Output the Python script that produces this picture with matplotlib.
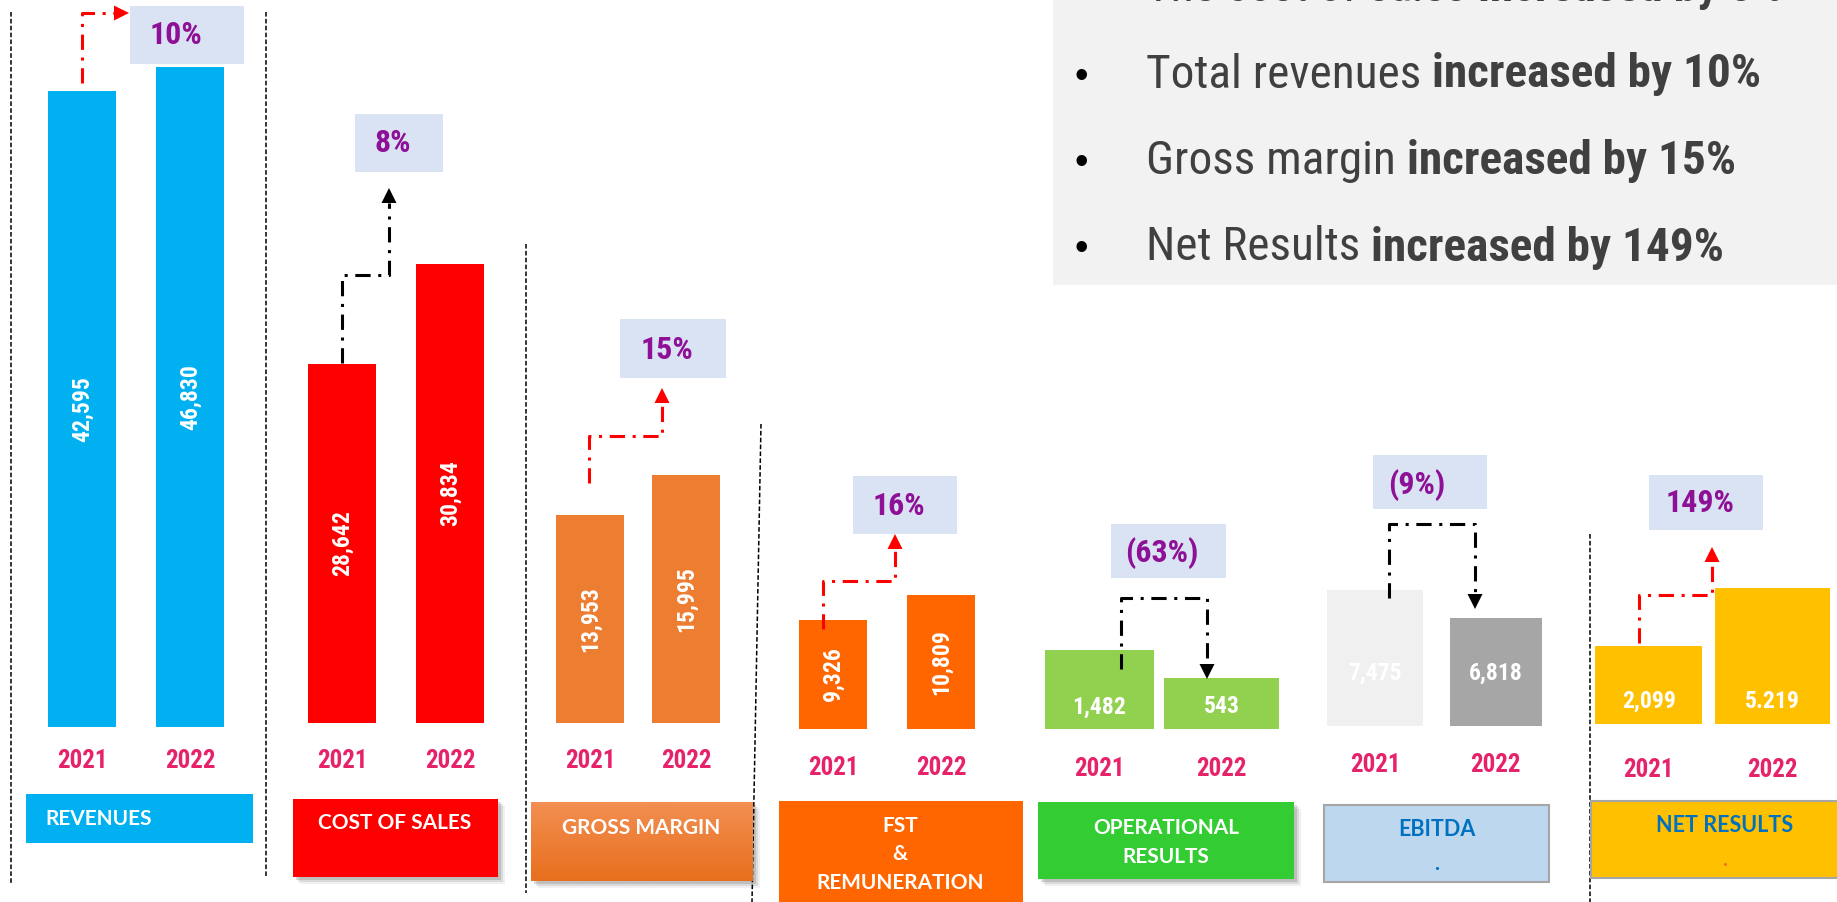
import numpy as np
import matplotlib
matplotlib.use('Agg')
import matplotlib.pyplot as plt
from matplotlib import font_manager
from matplotlib.patches import Rectangle, Polygon
from matplotlib.colors import LinearSegmentedColormap

# ---- data ----
years = ['2021', '2022']
revenues = [42595, 46830]
cost_of_sales = [28642, 30834]
gross_margin = [13953, 15995]
fst_remuneration = [9326, 10809]
operational_results = [1482, 543]
ebitda = [7475, 6818]
net_results = [2099, 5219]
net_labels = ['2,099', '5.219']
changes = ['10%', '8%', '15%', '16%', '(63%)', '(9%)', '149%']
categories = ['REVENUES', 'COST OF SALES', 'GROSS MARGIN', 'FST\n&\nREMUNERATION',
              'OPERATIONAL\nRESULTS', 'EBITDA\n.', 'NET RESULTS\n.']
summary_plain = ['The cost of sales ', 'Total revenues ', 'Gross margin ', 'Net Results ']
summary_bold = ['increased by 8%', 'increased by 10%', 'increased by 15%', 'increased by 149%']

series = [revenues, cost_of_sales, gross_margin, fst_remuneration,
          operational_results, ebitda, net_results]

W, H = 1837, 902

# pick a narrow face (Arial Narrow look) if one is installed
fl = font_manager.fontManager.ttflist
names = {f.name for f in fl}
NARROW = dict(family='Liberation Sans')
SC = 0.84
for cand in ['Liberation Sans Narrow', 'Arial Narrow', 'Roboto Condensed', 'Open Sans Condensed',
             'Noto Sans Condensed', 'DejaVu Sans Condensed']:
    if cand in names:
        NARROW = dict(family=cand)
        SC = 1.0
        break
else:
    for f in fl:
        if f.name in ('Noto Sans', 'Open Sans', 'Roboto', 'DejaVu Sans', 'Inter') and \
                f.stretch in ('condensed', 'semi-condensed', 'extra-condensed'):
            NARROW = dict(family=f.name, stretch=f.stretch)
            SC = 0.95
            break
BOXFONT = 'Lato' if 'Lato' in names else 'DejaVu Sans'
YEAR_C = '#E6226B'
PCT_C = '#8E1096'

bar_colors = [['#00B0F0'] * 2, ['#FF0000'] * 2, ['#ED7D31'] * 2, ['#FF6600'] * 2,
              ['#92D050'] * 2, ['#F0F0F0', '#A6A6A6'], ['#FFC000'] * 2]

# left px, right px, base px, ylim lo, ylim hi, bar widths, year pad (pt), label offset (pt, None = rotated)
panel_layout = [
    (28, 244, 727, -69634, 58652, [0.63, 0.63], 15.8, None),
    (288, 504, 723, 20773, 36621, [0.63, 0.63], 18.7, None),
    (542, 734, 723, 3335, 40243, [0.71, 0.71], 18.7, None),
    (779, 995, 729, 2860, 46104, [0.63, 0.63], 19.4, None),
    (1038.5, 1282.5, 728.5, -1134, 23280, [0.89, 0.94], 20.5, 15.5),
    (1315, 1556, 725.5, 4284, 21307, [0.80, 0.76], 19.8, 37.8),
    (1587, 1834, 724, -2097, 36849, [0.87, 0.93], 24.5, 16.5),
]

fig = plt.figure(figsize=(W / 100, H / 100), dpi=100)
fig.patch.set_facecolor('white')

for i, vals in enumerate(series):
    L, R, base, lo, hi, widths, pad, offs = panel_layout[i]
    ax = fig.add_axes([L / W, 1 - base / H, (R - L) / W, base / H])
    ax.set_xlim(-0.5, 1.5)
    ax.set_ylim(lo, hi)
    ax.bar([0, 1], np.array(vals) - lo, bottom=lo, width=widths, color=bar_colors[i])
    ax.set_xticks([0, 1], years)
    ax.tick_params(axis='x', length=0, pad=pad, labelsize=18 * SC, labelcolor=YEAR_C)
    for t in ax.get_xticklabels():
        t.set_fontweight('bold')
        t.set_fontproperties(font_manager.FontProperties(weight='bold', size=18 * SC, **NARROW))
    ax.set_yticks([])
    for s in ax.spines.values():
        s.set_visible(False)
    ax.patch.set_alpha(0)
    labels = net_labels if vals is net_results else [f'{v:,}' for v in vals]
    for j, v in enumerate(vals):
        if offs is None:
            ax.text(j, (lo + v) / 2, labels[j], rotation=90, ha='center', va='center',
                    color='white', fontsize=17 * SC, fontweight='bold', **NARROW)
        else:
            ax.annotate(labels[j], xy=(j, lo), xytext=(0, offs), textcoords='offset points',
                        ha='center', va='center', color='white', fontsize=17 * SC,
                        fontweight='bold', **NARROW)

# ---- overlay in pixel coordinates ----
ov = fig.add_axes([0, 0, 1, 1])
ov.set_xlim(0, W)
ov.set_ylim(H, 0)
ov.axis('off')
ov.patch.set_alpha(0)

# dashed dividers
for (x0, y0, x1, y1) in [(11, 12, 11, 884), (266, 12, 266, 877), (526, 244, 526, 893),
                         (761, 424, 752, 902), (1590, 534, 1590, 902)]:
    ov.plot([x0, x1], [y0, y1], color='black', lw=1.1, linestyle=(0, (3, 1.5)))

# change boxes
pct_boxes = [(130, 244, 6, 64, 176, 35), (355, 443, 114, 172, 393, 143),
             (620, 726, 319, 378, 667, 350), (853, 957, 476, 534, 899, 506),
             (1111, 1226, 524, 578, 1162, 553), (1373, 1487, 455, 509, 1417, 485),
             (1649, 1763, 475, 530, 1700, 503)]
for k, (x0, x1, y0, y1, tx, ty) in enumerate(pct_boxes):
    ov.add_patch(Rectangle((x0, y0), x1 - x0, y1 - y0, fc='#DAE3F3', ec='none'))
    ov.text(tx, ty, changes[k], ha='center', va='center', color=PCT_C, fontsize=23 * SC,
            fontweight='bold', **NARROW)

# connector arrows
arrows = [
    ([(82, 83), (82, 13), (129, 13)], 'red'),
    ([(342, 363), (342, 275), (389, 275), (389, 188)], 'black'),
    ([(589, 483), (589, 436), (662, 436), (662, 388)], 'red'),
    ([(823, 629), (823, 581), (895, 581), (895, 534)], 'red'),
    ([(1121, 669), (1121, 598), (1207, 598), (1207, 679)], 'black'),
    ([(1389, 598), (1389, 524), (1475, 524), (1475, 609)], 'black'),
    ([(1639, 643), (1639, 595), (1712, 595), (1712, 547)], 'red'),
]
for pts, col in arrows:
    pts = np.array(pts, dtype=float)
    tip = pts[-1]
    d = tip - pts[-2]
    d = d / np.hypot(*d)
    base = tip - d * 15
    line = np.vstack([pts[:-1], base])
    ov.plot(line[:, 0], line[:, 1], color=col, lw=2.2, linestyle=(0, (5, 2.5, 1, 2.5)))
    nrm = np.array([-d[1], d[0]])
    ov.add_patch(Polygon([tip, base + nrm * 7.5, base - nrm * 7.5], closed=True, fc=col, ec='none'))

# category boxes
# x0, x1, y0, y1, fill, text colour, text x, first line y, line step, ha, edge, shadow
cat_layout = [
    (26, 253, 794, 843, '#00B0F0', 'white', 45, 819, 0, 'left', None, False),
    (293, 498, 799, 877, '#FF0000', 'white', 395, 823, 0, 'center', None, True),
    (531, 753, 802, 881, None, 'white', 641, 828, 0, 'center', None, True),
    (779, 1023, 801, 915, '#FF6600', 'white', 900, 826, 28.5, 'center', None, False),
    (1038, 1294, 802, 879, '#33CC33', 'white', 1166, 828, 29, 'center', None, True),
    (1324, 1549, 805, 882, '#BDD7EE', '#0070C0', 1437, 829, 34, 'center', '#A6A6A6', False),
    (1591, 1850, 801, 878, '#FFC000', '#0070C0', 1725, 826, 34, 'center', '#A6A6A6', False),
]
gm_cmap = LinearSegmentedColormap.from_list('gm', ['#F28F52', '#E86F1D'])
for k, (x0, x1, y0, y1, fc, tc, tx, ty, step, ha, ec, shadow) in enumerate(cat_layout):
    if shadow:
        for s, a in [(7, 0.08), (5, 0.12), (3, 0.18)]:
            ov.add_patch(Rectangle((x0 + s, y0 + s), x1 - x0, y1 - y0, fc='#404040', ec='none', alpha=a))
    if fc is None:
        ov.imshow(np.linspace(0, 1, 60).reshape(-1, 1), cmap=gm_cmap, extent=(x0, x1, y1, y0),
                  aspect='auto', zorder=2)
    else:
        ov.add_patch(Rectangle((x0, y0), x1 - x0, y1 - y0, fc=fc,
                               ec=ec if ec else 'none', lw=1.5, zorder=2))
    fs = 15.5 if tc != 'white' else 15
    for n, line in enumerate(categories[k].split('\n')):
        col = '#F07020' if (k == 6 and line == '.') else tc
        ov.text(tx, ty + n * step, line, ha=ha, va='center', color=col, fontsize=fs,
                fontweight='bold', family=BOXFONT, zorder=3)
ov.set_xlim(0, W)
ov.set_ylim(H, 0)

# summary text box
ov.add_patch(Rectangle((1053, -5), W - 1053 + 5, 290, fc='#F2F2F2', ec='none', zorder=1))
renderer = fig.canvas.get_renderer()
for n, (plain, bold) in enumerate(zip(summary_plain, summary_bold)):
    yb = 1 + n * 86.5
    ov.text(1081, yb, '\u2022', ha='center', va='baseline', fontsize=28, color='black',
            family='Liberation Sans', zorder=3)
    t = ov.text(1146, yb, plain, ha='left', va='baseline', fontsize=34 * SC, color='#404040',
                zorder=3, **NARROW)
    bb = t.get_window_extent(renderer)
    ov.text(bb.x1, yb, bold, ha='left', va='baseline', fontsize=34 * SC, color='#404040',
            fontweight='bold', zorder=3, **NARROW)

fig.savefig('out.png', dpi=100)
